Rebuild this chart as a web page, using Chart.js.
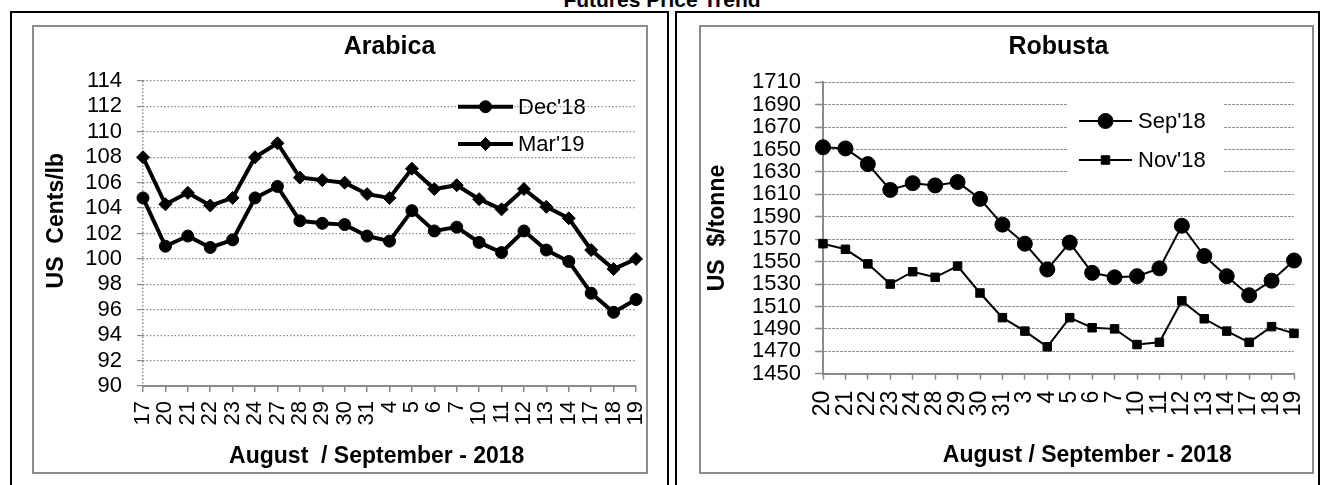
<!DOCTYPE html>
<html>
<head>
<meta charset="utf-8">
<script src="https://cdn.jsdelivr.net/npm/chart.js"></script>
<style>
html,body{margin:0;padding:0;background:#fff;width:1324px;height:485px;overflow:hidden;position:relative;font-family:'Liberation Sans',Arial,sans-serif;}
#title{position:absolute;left:0;width:1324px;top:-10px;text-align:center;font-weight:bold;font-size:21px;line-height:20px;color:#000;}
.cell{position:absolute;border:2px solid #000;box-sizing:border-box;}
.box{position:absolute;border:2px solid #8c8c8c;box-sizing:border-box;}
canvas{position:absolute;}
</style>
</head>
<body>
<div id="title">Futures Price Trend</div>
<div class="cell" style="left:10px;top:11px;width:659px;height:480px;"></div>
<div class="cell" style="left:675px;top:11px;width:645px;height:480px;"></div>
<div class="box" style="left:32px;top:25px;width:616px;height:449px;"></div>
<div class="box" style="left:699px;top:25px;width:615px;height:449px;"></div>
<canvas id="c1" width="612" height="445" style="left:34px;top:27px"></canvas>
<canvas id="c2" width="611" height="445" style="left:701px;top:27px"></canvas>
<script>
// ---------- DATA ----------
const arabicaDays = ['17','20','21','22','23','24','27','28','29','30','31','4','5','6','7','10','11','12','13','14','17','18','19'];
const arabicaDec18 = [104.8,101.0,101.8,100.9,101.5,104.8,105.7,103.0,102.8,102.7,101.8,101.4,103.8,102.2,102.5,101.3,100.5,102.2,100.7,99.8,97.3,95.8,96.8];
const arabicaMar19 = [108.0,104.3,105.2,104.2,104.8,108.0,109.1,106.4,106.2,106.0,105.1,104.8,107.1,105.5,105.8,104.7,103.9,105.5,104.1,103.2,100.7,99.2,100.0];
const arabicaSeries = ["Dec'18", "Mar'19"];
const arabicaYTicks = [90,92,94,96,98,100,102,104,106,108,110,112,114];

const robustaDays = ['20','21','22','23','24','28','29','30','31','3','4','5','6','7','10','11','12','13','14','17','18','19'];
const robustaSep18 = [1652,1651,1637,1614,1620,1618,1621,1606,1583,1566,1543,1567,1540,1536,1537,1544,1582,1555,1537,1520,1533,1551];
const robustaNov18 = [1566,1561,1548,1530,1541,1536,1546,1522,1500,1488,1474,1500,1491,1490,1476,1478,1515,1499,1488,1478,1492,1486];
const robustaSeries = ["Sep'18", "Nov'18"];
const robustaYTicks = [1450,1470,1490,1510,1530,1550,1570,1590,1610,1630,1650,1670,1690,1710];

// ---------- HELPERS ----------
const FONT = "'Liberation Sans', Arial, sans-serif";
Chart.defaults.font.family = FONT;
Chart.defaults.color = '#000';

function marker(ctx, style, r, x, y) {
  ctx.fillStyle = '#000'; ctx.strokeStyle = '#000'; ctx.lineWidth = 1;
  ctx.beginPath();
  if (style === 'circle') ctx.arc(x, y, r, 0, Math.PI * 2);
  else if (style === 'rectRot') { ctx.moveTo(x - r, y); ctx.lineTo(x, y - r); ctx.lineTo(x + r, y); ctx.lineTo(x, y + r); ctx.closePath(); }
  else { const s = r * Math.SQRT1_2; ctx.rect(x - s, y - s, 2 * s, 2 * s); }
  ctx.fill(); ctx.stroke();
}

function legendPlugin(cfg) {
  return {
    id: 'customLegend',
    beforeDatasetsDraw(chart) {
      if (!cfg.box) return;
      const ctx = chart.ctx; ctx.save();
      ctx.fillStyle = '#fff'; ctx.fillRect(cfg.box.x, cfg.box.y, cfg.box.w, cfg.box.h);
      ctx.restore();
    },
    afterDraw(chart) {
      const ctx = chart.ctx; ctx.save();
      chart.data.datasets.forEach((ds, i) => {
        const y = cfg.y[i];
        ctx.strokeStyle = '#000'; ctx.lineWidth = ds.borderWidth;
        ctx.beginPath(); ctx.moveTo(cfg.x1, y); ctx.lineTo(cfg.x2, y); ctx.stroke();
        marker(ctx, ds.pointStyle, ds.pointRadius, (cfg.x1 + cfg.x2) / 2, y);
        ctx.fillStyle = '#000'; ctx.font = cfg.fontSize + 'px ' + FONT;
        ctx.textBaseline = 'middle'; ctx.textAlign = 'left';
        ctx.fillText(ds.label, cfg.tx, y + 1);
      });
      ctx.restore();
    }
  };
}

function makeChart(id, o) {
  return new Chart(document.getElementById(id), {
    type: 'line',
    data: {
      labels: o.labels,
      datasets: o.series.map((s, i) => ({
        label: s.name, data: s.data, borderColor: '#000', backgroundColor: '#000',
        borderWidth: o.lineWidth, pointStyle: s.style, pointRadius: s.r, pointHoverRadius: s.r,
        pointBackgroundColor: '#000', pointBorderColor: '#000', pointBorderWidth: 1,
        tension: 0, clip: false, fill: false
      }))
    },
    options: {
      responsive: false, animation: false, devicePixelRatio: 1,
      layout: { padding: { left: 0, top: 0, right: o.padRight, bottom: 0 } },
      plugins: {
        legend: { display: false }, tooltip: { enabled: false },
        title: { display: true, text: o.title, fullSize: false, color: '#000',
          font: { size: 25, weight: 'bold', family: FONT, lineHeight: 1.2 },
          padding: { top: o.titlePad[0], bottom: o.titlePad[1] } }
      },
      scales: {
        x: {
          type: 'category', offset: false,
          grid: o.xGrid,
          border: o.xBorder,
          ticks: { autoSkip: false, maxRotation: 90, minRotation: 90, padding: o.xTickPad,
            font: { size: o.xTickSize, family: FONT }, color: '#000' },
          title: { display: true, text: o.xTitle, color: '#000',
            font: { size: 23, weight: 'bold', family: FONT, lineHeight: 1.2 },
            padding: { top: 0, bottom: o.xTitlePad } },
          afterFit: s => { s.height = o.xHeight; s.paddingLeft = 0; s.paddingRight = 0; }
        },
        y: {
          min: o.yTicks[0], max: o.yTicks[o.yTicks.length - 1],
          afterBuildTicks: s => { s.ticks = o.yTicks.map(v => ({ value: v })); },
          grid: o.yGrid,
          border: o.yBorder,
          ticks: { autoSkip: false, padding: o.yTickPad, font: { size: 22, family: FONT }, color: '#000',
            callback: v => String(v) },
          title: { display: true, text: o.yTitle, color: '#000',
            font: { size: 23, weight: 'bold', family: FONT, lineHeight: 1.2 },
            padding: { top: o.yTitlePad, bottom: 0 } },
          afterFit: s => { s.width = o.yWidth; s.paddingTop = 0; s.paddingBottom = 0; }
        }
      }
    },
    plugins: [legendPlugin(o.legend)]
  });
}

// ---------- ARABICA ----------
makeChart('c1', {
  labels: arabicaDays,
  series: [
    { name: arabicaSeries[0], data: arabicaDec18, style: 'circle', r: 6 },
    { name: arabicaSeries[1], data: arabicaMar19, style: 'rectRot', r: 6.5 }
  ],
  lineWidth: 4,
  title: 'Arabica', titlePad: [5, 19],
  padRight: 10,
  xHeight: 86, xTickPad: 9, xTickSize: 22,
  xTitle: 'August  / September - 2018    ', xTitlePad: 1.3,
  xGrid: { display: true, drawOnChartArea: true, drawTicks: true, tickLength: 6,
    color: c => c.index === 0 ? '#8a8a8a' : 'rgba(0,0,0,0)', lineWidth: 1.5,
    tickColor: '#8a8a8a', tickWidth: 1.5, tickBorderDash: [] },
  xBorder: { display: true, color: '#8a8a8a', width: 2, dash: [1.5, 2] },
  yTicks: arabicaYTicks, yWidth: 109, yTickPad: 15,
  yTitle: '    US  Cents/lb', yTitlePad: 9,
  yGrid: { color: '#8a8a8a', lineWidth: 1.2, drawTicks: true, tickLength: 6, tickColor: '#8a8a8a', tickWidth: 1.2, tickBorderDash: [] },
  yBorder: { display: false, dash: [1.5, 2] },
  legend: { x1: 424, x2: 479, tx: 484, y: [79.7, 117], fontSize: 22 }
});

// ---------- ROBUSTA ----------
makeChart('c2', {
  labels: robustaDays,
  series: [
    { name: robustaSeries[0], data: robustaSep18, style: 'circle', r: 7.5 },
    { name: robustaSeries[1], data: robustaNov18, style: 'rect', r: 6 }
  ],
  lineWidth: 2,
  title: 'Robusta', titlePad: [5.5, 19.8],
  padRight: 18,
  xHeight: 98.3, xTickPad: 11, xTickSize: 23,
  xTitle: '         August / September - 2018', xTitlePad: 2.8,
  xGrid: { display: true, drawOnChartArea: false, drawTicks: true, tickLength: 6, tickColor: '#8a8a8a', tickWidth: 1.5 },
  xBorder: { display: true, color: '#8a8a8a', width: 2 },
  yTicks: robustaYTicks, yWidth: 122, yTickPad: 14,
  yTitle: 'US  $/tonne', yTitlePad: 2.5,
  yGrid: { color: '#8f8f8f', lineWidth: 1, drawTicks: true, tickLength: 8, tickColor: '#8a8a8a', tickWidth: 1.5, tickBorderDash: [] },
  yBorder: { display: true, color: '#8a8a8a', width: 2, dash: [3, 1] },
  legend: { box: { x: 366, y: 66, w: 156, h: 90 }, x1: 378, x2: 431, tx: 437, y: [94, 133], fontSize: 22 }
});
</script>
</body>
</html>
